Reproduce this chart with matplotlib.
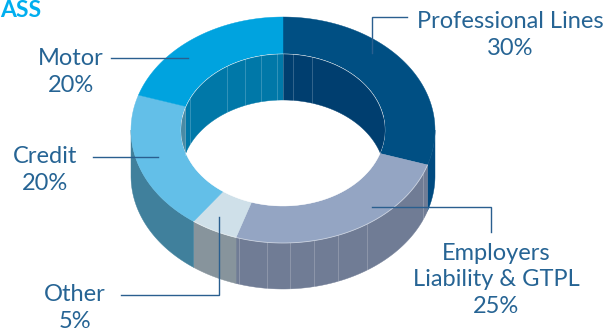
import numpy as np
import matplotlib
matplotlib.use('Agg')
import matplotlib.pyplot as plt
from matplotlib.patches import Polygon

plt.rcParams['font.family'] = ['Lato', 'DejaVu Sans']

names = ['Professional Lines', 'Employers\nLiability & GTPL', 'Other', 'Credit', 'Motor']
shares = [30, 25, 5, 20, 20]

top_colors = ['#004f83', '#94a5c3', '#cfe0e9', '#63bfe8', '#00a3df']
side_colors = ['#004a80', '#707c95', '#87949c', '#40809c', '#0078a8']
wall_colors = ['#003e6f', '#6f7c96', '#87949c', '#4a8ba5', '#0078a8']

# ring geometry in pixels
cx, cy = 283, 130
rx_out, ry_out = 152, 113
rx_in, ry_in = 102, 76
depth = 46

# seam positions on the extruded faces
wall_seams = [185, 190, 227, 245, 261, 277, 283, 293, 312]
side_seams = [239, 267, 290, 314, 338, 367, 423]

text_color = '#266494'
line_color = '#2a5f8f'


def arc(rx, ry, a0, a1, dy=0, n=120):
    t = np.radians(np.linspace(a0, a1, n))
    return np.column_stack([cx + rx * np.sin(t), cy + dy - ry * np.cos(t)])


def band(rx, ry, a0, a1):
    return np.vstack([arc(rx, ry, a0, a1), arc(rx, ry, a1, a0, depth)])


fig = plt.figure(figsize=(6.13, 3.31), dpi=100)
ax = fig.add_axes([0, 0, 1, 1])
ax.set_xlim(0, 613)
ax.set_ylim(331, 0)
ax.axis('off')

edges = np.cumsum([0] + shares) * 3.6
spans = list(zip(edges[:-1], edges[1:]))

# outer side, front half only
for (a0, a1), c in zip(spans, side_colors):
    lo, hi = max(a0, 90), min(a1, 270)
    if lo < hi:
        ax.add_patch(Polygon(band(rx_out, ry_out, lo, hi), fc=c, ec=c, lw=0.3, zorder=1))

for x in side_seams:
    t = np.arcsin((x - cx) / rx_out)
    y = cy - ry_out * np.cos(np.pi - t)
    ax.plot([x, x], [y, y + depth], color='white', alpha=0.2, lw=0.7, zorder=2)

# top face
for (a0, a1), c in zip(spans, top_colors):
    pts = np.vstack([arc(rx_out, ry_out, a0, a1), arc(rx_in, ry_in, a1, a0)])
    ax.add_patch(Polygon(pts, fc=c, ec=c, lw=0.3, zorder=3))

# rim highlight along the front of the top face
ax.plot(*arc(rx_out, ry_out, 108, 216).T, color='white', alpha=0.5, lw=0.6, zorder=4)

# hole and the far inner wall seen through it
hole = Polygon(arc(rx_in, ry_in, 0, 360), fc='white', ec='white', lw=0.3, zorder=4)
ax.add_patch(hole)
for (a0, a1), c in zip(spans, wall_colors):
    for lo, hi in [(max(a0, 270), min(a1, 360)), (max(a0, 0), min(a1, 90))]:
        if lo < hi:
            p = Polygon(band(rx_in, ry_in, lo, hi), fc=c, ec=c, lw=0.3, zorder=5)
            ax.add_patch(p)
            p.set_clip_path(hole)

for x in wall_seams:
    s = (x - cx) / rx_in
    y = cy - ry_in * np.sqrt(1 - s ** 2)
    ax.plot([x, x], [y, y + depth], color='white', alpha=0.2, lw=0.7, zorder=6)

ax.plot(*arc(rx_in, ry_in, 280, 440).T, color='white', alpha=0.4, lw=0.5, zorder=6)

# leader lines
leaders = [
    ([407, 372, 372], [17, 17, 53]),
    ([491, 491, 372], [232, 207, 207]),
    ([121, 219, 219], [295, 295, 217]),
    ([93, 158], [157, 157]),
    ([111, 188], [58, 58]),
]
for xs, ys in leaders:
    ax.plot(xs, ys, color=line_color, lw=1.0, zorder=7, solid_joinstyle='miter')

# labels
label_pos = [(510, 35), (496, 280), (75, 308), (45, 170), (71, 72)]
for name, share, (x, y) in zip(names, shares, label_pos):
    ax.text(x, y, f'{name}\n{share}%', color=text_color, fontsize=17,
            ha='center', va='center', linespacing=1.32, zorder=8)

ax.text(0, 17, 'ASS', color='#00aeef', fontsize=16.5, fontweight='bold', ha='left', va='baseline')

fig.savefig('out.png', dpi=100)
